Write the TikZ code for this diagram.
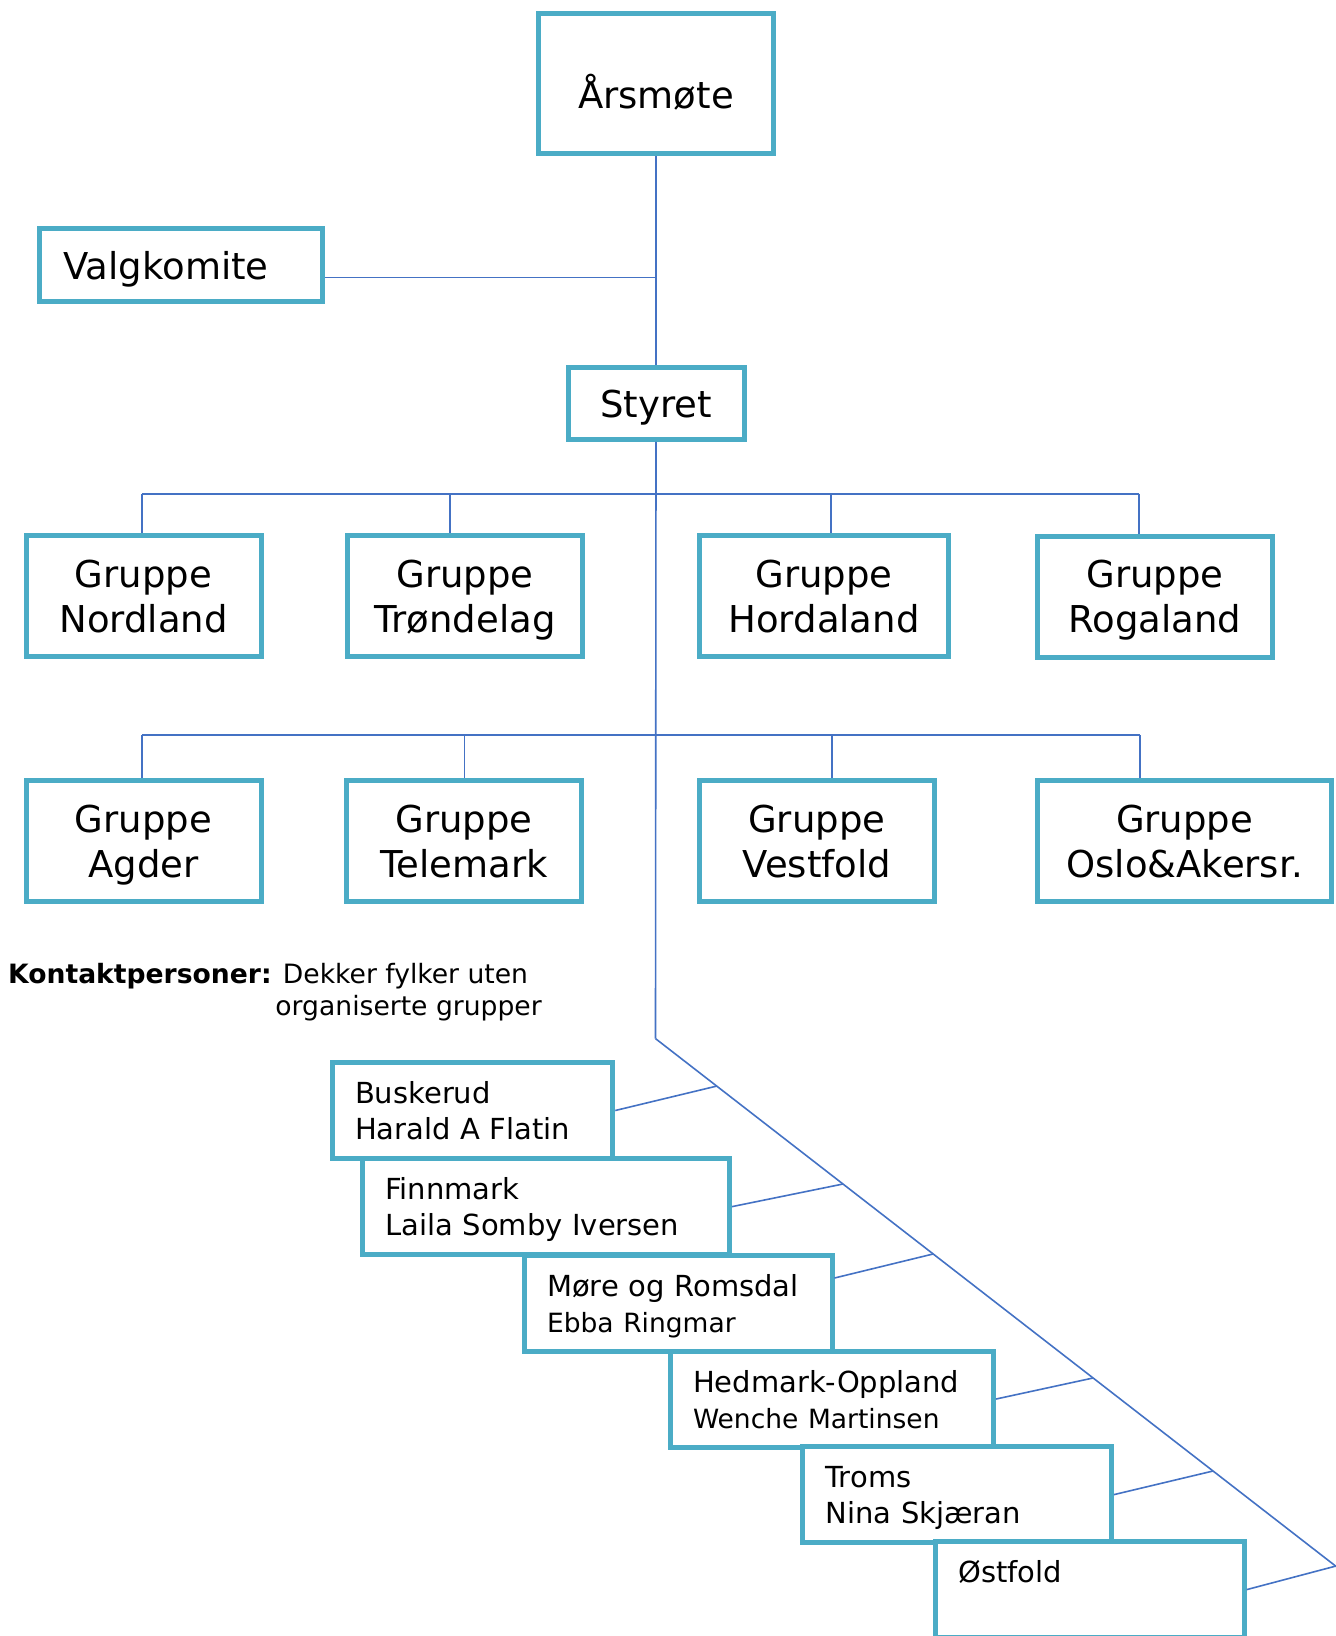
\documentclass[tikz,border=0pt]{standalone}
\usepackage{fontspec}
\setmainfont{DejaVu Sans}
\usepackage{tikz}
\usetikzlibrary{calc,positioning}

\definecolor{boxblue}{HTML}{4BACC6}
\definecolor{linkblue}{HTML}{4472C4}

\newcommand{\grpfont}{\fontsize{37}{45}\selectfont}
\newcommand{\kpfont}{\fontsize{29}{36}\selectfont}
\newcommand{\kpsmall}{\fontsize{26.5}{33}\selectfont}
\newcommand{\notefont}{\fontsize{26.6}{32.6}\selectfont}
\newcommand{\nodepth}[1]{\raisebox{0pt}[\height][0pt]{#1}}

\tikzset{
  orgbox/.style={draw=boxblue,line width=5pt,fill=white,inner sep=0pt,text depth=0pt,align=center,font=\grpfont},
  kpbox/.style={draw=boxblue,line width=5pt,fill=white,inner xsep=23pt,inner ysep=0pt,minimum height=96pt,align=left,font=\kpfont},
  link/.style={draw=linkblue,line width=1.6pt}
}

\begin{document}
\begin{tikzpicture}[x=1pt,y=-1pt]
\useasboundingbox (0,0) rectangle (1336,1636);

% top of the tree
\node [orgbox,minimum width=235pt,minimum height=140pt,text height=49pt] (aarsmote) at (656,83.5) {Årsmøte};
\node [orgbox,minimum height=73pt,inner xsep=24pt,text width=235pt,align=left] (valg) at (181,265) {Valgkomite};
\node [orgbox,minimum width=176pt,minimum height=72pt] (styret) at (656,403.4) {Styret};

% groups
\node [orgbox,minimum width=235pt,minimum height=121pt] (nordland) at (143.5,596) {Gruppe\\Nordland};
\node [orgbox,minimum width=235pt,minimum height=121pt] (trondelag) at (465,596) {Gruppe\\Trøndelag};
\node [orgbox,minimum width=249.5pt,minimum height=121pt] (hordaland) at (824,596) {Gruppe\\Hordaland};
\node [orgbox,minimum width=235pt,minimum height=121pt] (rogaland) at (1155,596.5) {Gruppe\\Rogaland};
\node [orgbox,minimum width=235pt,minimum height=121pt] (agder) at (143.5,841) {Gruppe\\Agder};
\node [orgbox,minimum width=235pt,minimum height=121pt] (telemark) at (464,841) {Gruppe\\Telemark};
\node [orgbox,minimum width=235pt,minimum height=121pt] (vestfold) at (816.8,841) {Gruppe\\Vestfold};
\node [orgbox,minimum width=294pt,minimum height=121pt] (oslo) at (1184.6,841) {Gruppe\\Oslo\&Akersr.};

\node [anchor=west,inner sep=0pt,font=\notefont] (kontakt) at (8,993) {\begin{tabular}{@{}l@{ }l@{}}\textbf{Kontaktpersoner:} & Dekker fylker uten\\ & \hspace*{-7.5pt}organiserte grupper\end{tabular}};

% trunk and busses
\coordinate (valgjoin) at (655.5,277.6);
\coordinate (bus1w) at (142,493.7);
\coordinate (bus1e) at (1139,493.7);
\coordinate (drop1b) at (450,493.7);
\coordinate (drop1c) at (831,493.7);
\coordinate (bus2w) at (142,734.8);
\coordinate (bus2e) at (1140,734.8);
\coordinate (drop2b) at (464.5,734.8);
\coordinate (drop2c) at (832,734.8);
\coordinate (dtop) at (655.5,1038.6);
\coordinate (dend) at (1346,1574.1);

\draw [link] (aarsmote.south) -- (styret.north);
\draw [link] (valg.east |- valgjoin) -- (valgjoin);
\draw [link] (styret.south) -- (dtop);
\draw [link] (bus1w) -- (bus1e);
\draw [link] (bus1w) -- (bus1w |- nordland.north);
\draw [link] (drop1b) -- (drop1b |- trondelag.north);
\draw [link] (drop1c) -- (drop1c |- hordaland.north);
\draw [link] (bus1e) -- (bus1e |- rogaland.north);
\draw [link] (bus2w) -- (bus2e);
\draw [link] (bus2w) -- (bus2w |- agder.north);
\draw [link] (drop2b) -- (drop2b |- telemark.north);
\draw [link] (drop2c) -- (drop2c |- vestfold.north);
\draw [link] (bus2e) -- (bus2e |- oslo.north);
\draw [link] (dtop) -- (dend);

% contact persons
\node [kpbox,text width=234.7pt] (buskerud) at (472.4,1110.5) {Buskerud\\\nodepth{Harald A Flatin}};
\node [kpbox,text width=321.4pt] (finnmark) at (545.9,1206.6) {Finnmark\\\nodepth{Laila Somby Iversen}};
\node [kpbox,text width=262pt] (more) at (678,1303) {Møre og Romsdal\\\nodepth{\kpsmall Ebba Ringmar}};
\node [kpbox,text width=277.6pt] (hedmark) at (831.8,1399) {Hedmark-Oppland\\\nodepth{\kpsmall Wenche Martinsen}};
\node [kpbox,text width=263pt] (troms) at (957,1494.6) {Troms\\\nodepth{Nina Skjæran}};
\node [kpbox,text width=263pt] (ostfold) at (1089.7,1589.6) {Østfold\\\mbox{}};

\coordinate (tick1) at (717,1086);
\coordinate (tick2) at (843,1184);
\coordinate (tick3) at (933,1254);
\coordinate (tick4) at (1093,1378);
\coordinate (tick5) at (1213,1471);
\coordinate (tick6) at (1336,1566);

\draw [link] (buskerud.east) -- (tick1);
\draw [link] (finnmark.east) -- (tick2);
\draw [link] ([yshift=25pt]more.east) -- (tick3);
\draw [link] (hedmark.east) -- (tick4);
\draw [link] (troms.east) -- (tick5);
\draw [link] (ostfold.east) -- (tick6);
\end{tikzpicture}
\end{document}
